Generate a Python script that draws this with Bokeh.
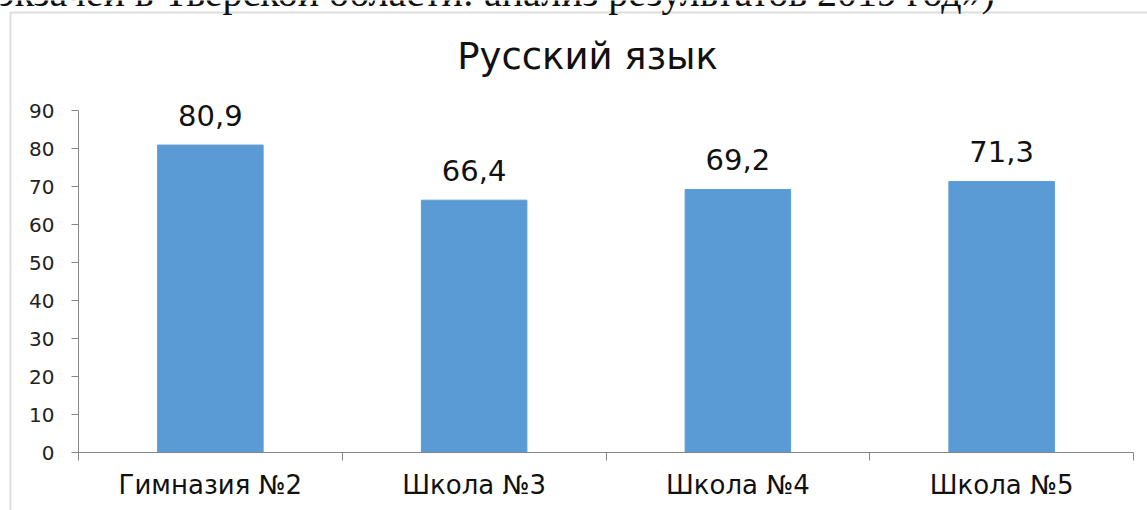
from bokeh.plotting import figure
from bokeh.models import ColumnDataSource, FixedTicker, Label, BoxAnnotation
from bokeh.core.properties import value
from bokeh.embed import file_html
from bokeh.resources import INLINE

categories = ["Гимназия №2", "Школа №3", "Школа №4", "Школа №5"]
values = [80.9, 66.4, 69.2, 71.3]
value_labels = ["80,9", "66,4", "69,2", "71,3"]
y_ticks = [0, 10, 20, 30, 40, 50, 60, 70, 80, 90]
title_text = "Русский язык"
caption_text = "экзачей в Тверской области: анализ результатов 2019 год»)"

n = len(categories)
y_max = y_ticks[-1]
xs = [i + 0.5 for i in range(n)]
bounds = list(range(n + 1))
src = ColumnDataSource(dict(x=xs, top=values, label=value_labels))

# layout (pixels)
W, H = 1147, 510
L, R, T, B = 78, 1133, 110, 452
ux = (R - L) / n
uy = (B - T) / y_max

p = figure(width=W, height=H,
           x_range=(-L / ux, n + (W - R) / ux),
           y_range=(-(H - B) / uy, y_max + T / uy),
           output_backend="svg", toolbar_location=None,
           min_border_left=0, min_border_right=0, min_border_top=0, min_border_bottom=0)
p.background_fill_color = "white"
p.border_fill_color = "white"
p.outline_line_color = None
p.xgrid.visible = False
p.ygrid.visible = False

p.vbar(x="x", top="top", width=0.4, source=src, fill_color="#5B9BD5", line_color="#5B9BD5")
p.text(x="x", y="top", text="label", source=src, text_align="center", text_baseline="alphabetic",
       y_offset=-30, text_font=value("DejaVu Sans"), text_font_size="29px", text_color="#111111")

ax = p.xaxis[0]
ax.fixed_location = 0
ax.bounds = (0, n)
ax.ticker = FixedTicker(ticks=xs, minor_ticks=bounds)
ax.major_label_overrides = {x: c for x, c in zip(xs, categories)}
ax.major_tick_out = 0
ax.major_tick_in = 0
ax.minor_tick_out = 8
ax.minor_tick_in = 0
ax.axis_line_color = "#868686"
ax.minor_tick_line_color = "#868686"
ax.major_label_standoff = 9
ax.major_label_text_font = "DejaVu Sans"
ax.major_label_text_font_size = "26px"
ax.major_label_text_color = "#111111"

ay = p.yaxis[0]
ay.fixed_location = 0
ay.bounds = (0, y_max)
ay.ticker = FixedTicker(ticks=y_ticks)
ay.major_tick_out = 7
ay.major_tick_in = 0
ay.minor_tick_out = 0
ay.minor_tick_in = 0
ay.axis_line_color = "#868686"
ay.major_tick_line_color = "#868686"
ay.major_label_standoff = 17
ay.major_label_text_font = "DejaVu Sans"
ay.major_label_text_font_size = "20px"
ay.major_label_text_color = "#222222"

# outer frame of the chart box (left and top edges visible)
p.add_layout(BoxAnnotation(left=(10 - L) / ux, right=n + (W + 50 - R) / ux,
                           top=y_max + (T - 12) / uy, bottom=-(H + 50 - B) / uy,
                           fill_color=None, fill_alpha=0,
                           line_color="#8f8f8f", line_width=2))
p.add_layout(Label(x=587, y=56, x_units="canvas", y_units="canvas", text=title_text,
                   text_align="center", text_baseline="alphabetic",
                   text_font="DejaVu Sans", text_font_size="37px", text_color="#111111"))
p.add_layout(Label(x=-3, y=-8, x_units="canvas", y_units="canvas", text=caption_text,
                   text_align="left", text_baseline="alphabetic",
                   text_font="Liberation Serif", text_font_size="40px", text_color="#111111"))

open("out.html", "w").write(file_html(p, INLINE))
